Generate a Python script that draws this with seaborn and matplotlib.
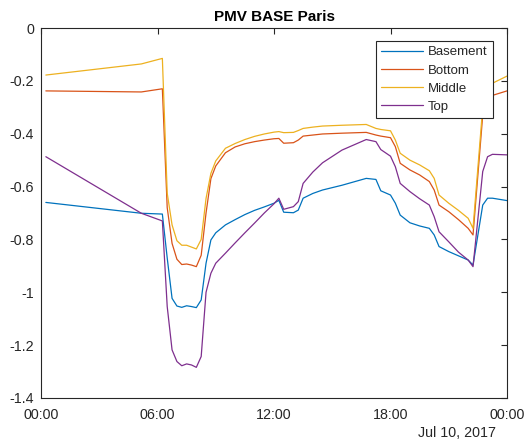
import numpy as np
import pandas as pd
import seaborn as sns
import matplotlib.pyplot as plt
import matplotlib.dates as mdates
from matplotlib.ticker import FuncFormatter

# time of day for each sample (Jul 10, 2017)
times = ["00:15", "05:10", "06:15", "06:30", "06:45", "07:00", "07:15", "07:30",
         "07:45", "08:00", "08:15", "08:30", "08:45", "09:00", "09:30", "10:00",
         "10:30", "11:00", "11:30", "12:00", "12:15", "12:30", "13:00", "13:15",
         "13:30", "14:00", "14:30", "15:30", "16:45", "17:15", "17:30", "18:00",
         "18:15", "18:30", "19:00", "19:30", "20:00", "20:15", "20:30", "21:00",
         "21:30", "22:00", "22:15", "22:45", "23:00", "23:15", "24:00"]

basement = [-0.660, -0.701, -0.704, -0.870, -1.023, -1.052, -1.057, -1.051,
            -1.054, -1.058, -1.029, -0.890, -0.802, -0.775, -0.745, -0.725,
            -0.706, -0.690, -0.677, -0.663, -0.652, -0.697, -0.699, -0.689,
            -0.644, -0.626, -0.613, -0.595, -0.569, -0.573, -0.616, -0.632,
            -0.663, -0.708, -0.737, -0.749, -0.758, -0.783, -0.827, -0.846,
            -0.862, -0.878, -0.897, -0.670, -0.644, -0.644, -0.653]

bottom = [-0.238, -0.242, -0.230, -0.680, -0.815, -0.875, -0.895, -0.893,
          -0.897, -0.903, -0.860, -0.700, -0.570, -0.522, -0.472, -0.450,
          -0.438, -0.430, -0.424, -0.419, -0.418, -0.436, -0.434, -0.424,
          -0.409, -0.405, -0.401, -0.398, -0.395, -0.405, -0.409, -0.415,
          -0.449, -0.512, -0.537, -0.556, -0.581, -0.613, -0.670, -0.695,
          -0.725, -0.758, -0.783, -0.330, -0.280, -0.255, -0.238]

middle = [-0.178, -0.136, -0.115, -0.625, -0.745, -0.805, -0.822, -0.822,
          -0.829, -0.836, -0.800, -0.645, -0.550, -0.503, -0.455, -0.437,
          -0.422, -0.410, -0.401, -0.394, -0.392, -0.396, -0.395, -0.388,
          -0.380, -0.375, -0.371, -0.368, -0.365, -0.380, -0.384, -0.389,
          -0.424, -0.474, -0.500, -0.518, -0.540, -0.569, -0.632, -0.663,
          -0.690, -0.720, -0.758, -0.300, -0.240, -0.209, -0.182]

top = [-0.487, -0.701, -0.730, -1.054, -1.218, -1.262, -1.278, -1.271,
       -1.275, -1.284, -1.243, -1.000, -0.928, -0.890, -0.852, -0.813,
       -0.775, -0.738, -0.700, -0.665, -0.644, -0.686, -0.676, -0.657,
       -0.588, -0.545, -0.510, -0.462, -0.422, -0.430, -0.460, -0.485,
       -0.525, -0.588, -0.619, -0.646, -0.670, -0.714, -0.771, -0.809,
       -0.848, -0.878, -0.903, -0.543, -0.487, -0.478, -0.480]

series_names = ["Basement", "Bottom", "Middle", "Top"]
colors = ["#0072BD", "#D95319", "#EDB120", "#7E2F8E"]

day = pd.Timestamp("2017-07-10")
stamps = day + pd.to_timedelta([t + ":00" for t in times])

df = pd.DataFrame({"time": stamps, "Basement": basement, "Bottom": bottom,
                   "Middle": middle, "Top": top})
long_df = df.melt(id_vars="time", var_name="zone", value_name="PMV")

sns.set_style("white")
plt.rcParams["font.family"] = ["Liberation Sans", "DejaVu Sans"]
plt.rcParams["axes.unicode_minus"] = False

fig = plt.figure(figsize=(5.26, 4.45), dpi=100)
ax = fig.add_axes([41 / 526, 47 / 445, 466 / 526, 370 / 445])

sns.lineplot(data=long_df, x="time", y="PMV", hue="zone", hue_order=series_names,
             palette=colors, linewidth=0.9, errorbar=None, ax=ax)

ax.set_xlim(day, day + pd.Timedelta(days=1))
ax.set_ylim(-1.4, 0)
ax.xaxis.set_major_locator(mdates.HourLocator(byhour=[0, 6, 12, 18]))
ax.xaxis.set_major_formatter(mdates.DateFormatter("%H:%M"))
ax.set_yticks(np.arange(-1.4, 0.01, 0.2))
ax.yaxis.set_major_formatter(FuncFormatter(lambda v, p: "0" if abs(v) < 1e-9 else f"{round(v, 1):g}"))

ax.set_xlabel("")
ax.set_ylabel("")
ax.set_title("PMV BASE Paris", fontsize=11, fontweight="bold", color="black", pad=5)

for s in ax.spines.values():
    s.set_visible(True)
    s.set_color("#262626")
    s.set_linewidth(0.8)
ax.tick_params(direction="in", top=True, right=True, length=4, width=0.8,
               colors="#262626", labelsize=10.3)
ax.tick_params(axis="x", pad=7)
ax.tick_params(axis="y", pad=5)

ax.text(0.976, -0.075, "Jul 10, 2017", transform=ax.transAxes, ha="right", va="top",
        fontsize=10.3, color="#262626")

sns.move_legend(ax, "upper right", bbox_to_anchor=(0.97, 0.965), borderaxespad=0,
                title=None, frameon=True, fancybox=False, framealpha=1,
                edgecolor="#262626", fontsize=9.5, handlelength=3.2,
                labelspacing=0.44, borderpad=0.4, handletextpad=0.35)
ax.get_legend().get_frame().set_linewidth(0.8)

fig.savefig("out.png", dpi=100)
